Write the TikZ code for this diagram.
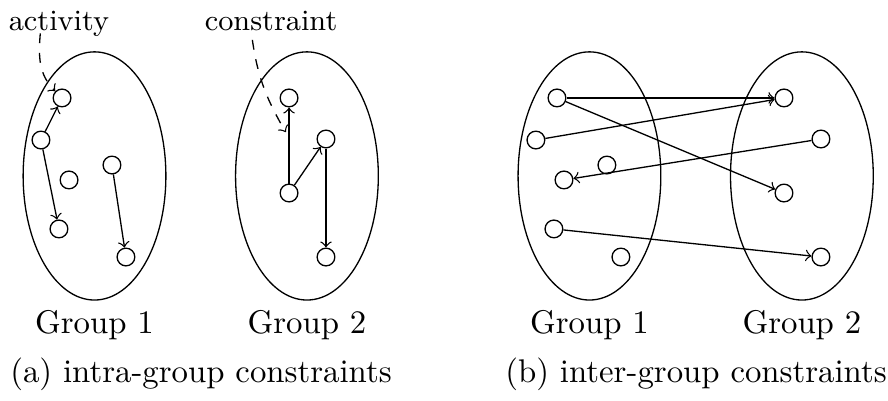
\documentclass[tikz,border=0pt]{standalone}
\usetikzlibrary{shapes.geometric}
\begin{document}
\begin{tikzpicture}[line join=round,>=to,
		act/.style={circle,draw,minimum size=0.19cm,inner sep=0pt},
		grp/.style={ellipse,draw,minimum width=1.53cm,minimum height=2.66cm,inner sep=0pt},
		lbl/.style={font=\small,anchor=base}]
	\useasboundingbox (0,0) rectangle (9.518,4.298);
	\foreach \p/\dx in {l/0,r/5.305}{
		\begin{scope}[xshift=\dx cm,name prefix=\p-]
			\node[grp] (g1) at (1.013,2.412) {};
			\node[grp] (g2) at (3.290,2.412) {};
			\node[anchor=base,yshift=-0.354cm] (n1) at (g1.south) {Group 1};
			\node[anchor=base,yshift=-0.354cm] (n2) at (g2.south) {Group 2};
			\foreach \n/\x/\y in {a1/0.665/3.248,a2/0.439/2.797,a3/0.740/2.369,a4/1.200/2.529,a5/0.632/1.844,a6/1.350/1.543,b1/3.098/3.248,b2/3.494/2.808,b3/3.098/2.229,b4/3.494/1.543}
				\node[act] (\n) at (\x,\y) {};
		\end{scope}
	}
	% intra-group
	\draw[->] (l-a2) -- (l-a1);
	\draw[->] (l-a2) -- (l-a5);
	\draw[->] (l-a4) -- (l-a6);
	\draw[->] (l-b3) -- (l-b1) coordinate[pos=0.6] (l-c);
	\draw[->] (l-b3) -- (l-b2);
	\draw[->] (l-b2) -- (l-b4);
	\node[lbl] (act) at (0.632,3.976) {activity};
	\node[lbl] (con) at (2.905,3.976) {constraint};
	\draw[dashed,->] ([shift={(-2mm,-1pt)}]act.base) to[out=-95,in=135] (l-a1);
	\draw[dashed,->,shorten >=2pt] ([shift={(-2mm,-3pt)}]con.base) to[out=-82,in=120] (l-c);
	\node[anchor=base] (capa) at (2.154,0.193) {(a) intra-group constraints};
	% inter-group
	\draw[->] (r-a1) -- (r-b1);
	\draw[->] (r-a1) -- (r-b3);
	\draw[->] (r-a2) -- (r-b1);
	\draw[->] (r-b2) -- (r-a3);
	\draw[->] (r-a5) -- (r-b4);
	\node[anchor=base] (capb) at (7.460,0.193) {(b) inter-group constraints};
\end{tikzpicture}
\end{document}
